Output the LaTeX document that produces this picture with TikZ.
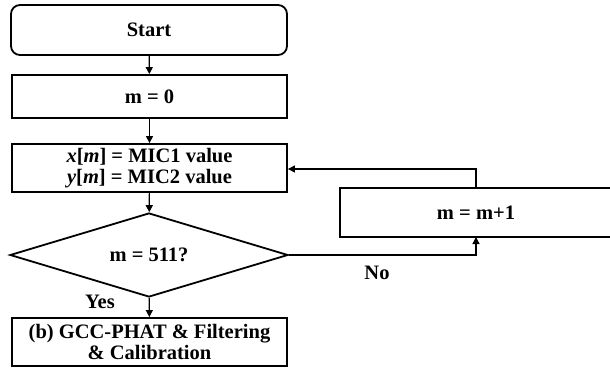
\documentclass[tikz,border=0pt]{standalone}
\usepackage{fontspec}
\setmainfont{Liberation Serif}
\usetikzlibrary{shapes.geometric,arrows.meta}
\begin{document}
\begin{tikzpicture}[x=1pt,y=-1pt,
  every node/.style={font=\bfseries\fontsize{20.5}{21}\selectfont, inner sep=0pt},
  box/.style={draw, line width=1.8pt, align=center},
  conn/.style={line width=1.2pt, -{Triangle[length=7pt,width=7pt]}}]
\useasboundingbox (0,0) rectangle (610,369);
\begin{scope}
\clip (0,0) rectangle (610,369);
\node[box, rounded corners=9pt, minimum width=276pt, minimum height=50pt] (start) at (149,30) {Start};
\node[box, minimum width=275pt, minimum height=43pt] (m0) at (149.5,96.5) {m = 0};
\node[box, minimum width=275pt, minimum height=48pt] (read) at (149.5,168) {\textit{x}[\textit{m}] = MIC1 value\\\textit{y}[\textit{m}] = MIC2 value};
\node[box, diamond, aspect=3.3, minimum width=278pt, minimum height=84pt] (dec) at (149,255) {m = 511?};
\node[box, minimum width=275pt, minimum height=48pt] (calc) at (149.5,342) {(b) GCC-PHAT \& Filtering\\\& Calibration};
\node[box, minimum width=320pt, minimum height=49pt] (inc) at (500,212.5) {};
\node (inctext) at (476,213) {m = m+1};
\coordinate (incb) at (476,237);
\coordinate (inct) at (476,188);
\draw[conn] (start) -- (m0);
\draw[conn] (m0) -- (read);
\draw[conn] (read) -- (dec);
\draw[conn] (dec) -- (calc);
\draw[conn] (dec.east) -| (incb);
\draw[conn] (inct) |- (read.east |- 0,169);
\node (yes) at (100,302) {Yes};
\node (no) at (377,273) {No};
\end{scope}
\end{tikzpicture}
\end{document}
